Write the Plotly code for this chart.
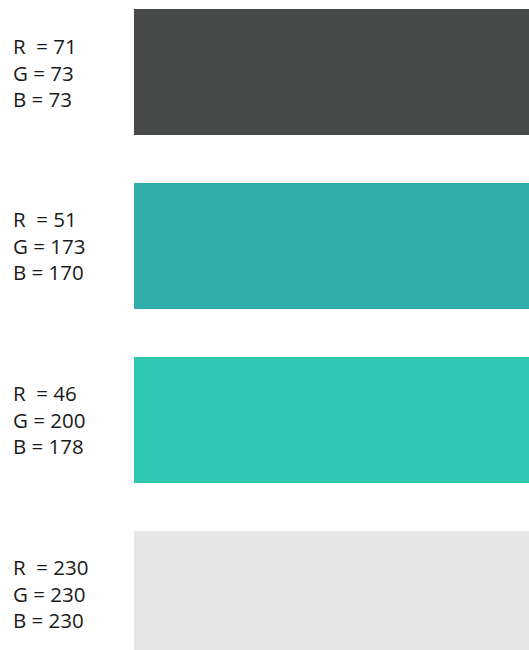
import plotly.graph_objects as go

# Data: RGB components of each swatch
swatch_names = ["dark gray", "teal", "turquoise", "light gray"]
red_values = [71, 51, 46, 230]
green_values = [73, 173, 200, 230]
blue_values = [73, 170, 178, 230]

colors = [f"rgb({r},{g},{b})" for r, g, b in zip(red_values, green_values, blue_values)]
labels = [f"R\u00a0\u00a0= {r}<br>G = {g}<br>B = {b}"
          for r, g, b in zip(red_values, green_values, blue_values)]

W, H = 529, 650
slot = 173.9          # px per category slot
center0 = 72.0        # px of first swatch center
bar_h = 126 / slot    # bar thickness in category units
left_px = 134

fig = go.Figure()
fig.add_trace(go.Bar(
    y=swatch_names,
    x=[1] * len(swatch_names),
    base=0,
    orientation="h",
    width=bar_h,
    marker=dict(color=colors, line=dict(width=0)),
    hoverinfo="skip",
    showlegend=False,
))

for name, lab in zip(swatch_names, labels):
    fig.add_annotation(
        x=11 / W, xref="paper", xanchor="left",
        y=name, yref="y", yanchor="middle",
        text=lab, showarrow=False, align="left",
        font=dict(family="Open Sans", size=20.5, color="#1a1a1a"),
    )

y_top = -center0 / slot
y_bot = (H - center0) / slot
fig.update_layout(
    width=W, height=H,
    margin=dict(l=0, r=0, t=0, b=0),
    paper_bgcolor="white", plot_bgcolor="white",
    xaxis=dict(range=[-left_px / (W - left_px), 1], visible=False, fixedrange=True),
    yaxis=dict(range=[y_bot, y_top], visible=False, fixedrange=True,
               type="category", categoryorder="array", categoryarray=swatch_names),
    bargap=0,
)

fig.write_html(
    "out.html",
    config={"displayModeBar": False},
    post_script="document.body.style.margin='0';document.body.style.overflow='hidden';",
)
